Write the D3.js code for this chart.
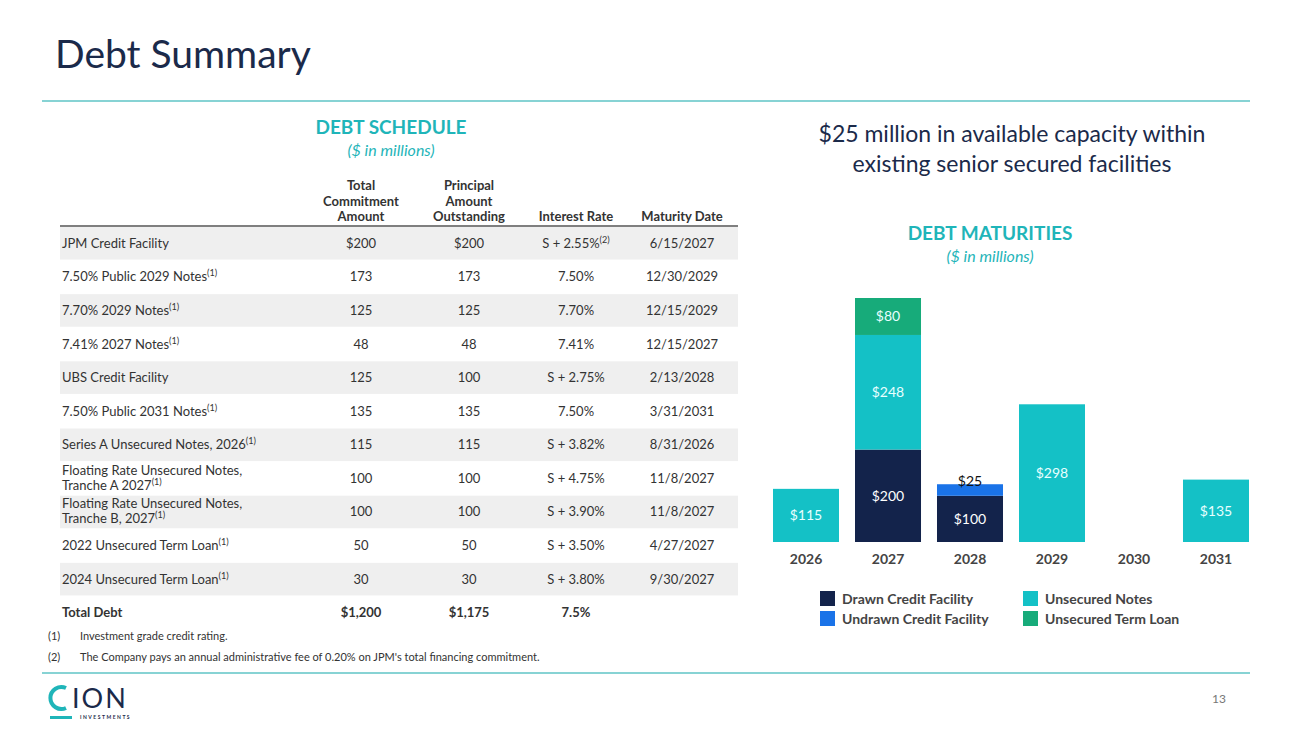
<!DOCTYPE html>
<html><head><meta charset="utf-8">
<script src="https://cdn.jsdelivr.net/npm/d3@7"></script>
<style>body{margin:0;background:#fff}svg{font-family:Lato,"Open Sans",sans-serif}</style>
</head><body><svg width="1300" height="731"></svg>
<script>
// table data
var rowNames = ["JPM Credit Facility","7.50% Public 2029 Notes|(1)","7.70% 2029 Notes|(1)","7.41% 2027 Notes|(1)","UBS Credit Facility","7.50% Public 2031 Notes|(1)","Series A Unsecured Notes, 2026|(1)","Floating Rate Unsecured Notes,\nTranche A 2027|(1)","Floating Rate  Unsecured Notes,\nTranche B, 2027|(1)","2022 Unsecured Term Loan|(1)","2024 Unsecured Term Loan|(1)"];
var commitment = ["$200","173","125","48","125","135","115","100","100","50","30"];
var outstanding = ["$200","173","125","48","100","135","115","100","100","50","30"];
var rates = ["S + 2.55%|(2)","7.50%","7.70%","7.41%","S + 2.75%","7.50%","S + 3.82%","S + 4.75%","S + 3.90%","S + 3.50%","S + 3.80%"];
var maturities = ["6/15/2027","12/30/2029","12/15/2029","12/15/2027","2/13/2028","3/31/2031","8/31/2026","11/8/2027","11/8/2027","4/27/2027","9/30/2027"];
var totals = ["Total Debt","$1,200","$1,175","7.5%",""];

// chart data
var years = ["2026","2027","2028","2029","2030","2031"];
var drawn = [0,200,100,0,0,0];
var undrawn = [0,0,25,0,0,0];
var notes = [115,248,0,298,0,135];
var termLoan = [0,80,0,0,0,0];
var seriesNames = ["Drawn Credit Facility","Undrawn Credit Facility","Unsecured Notes","Unsecured Term Loan"];
var colors = ["#13234b","#1a73e8","#14c1c6","#17ab7a"];

var svg = d3.select("svg");
var teal = "#1fb5b9", navy = "#1b2a4a";

svg.append("text").attr("x",55).attr("y",68).attr("font-size",39).attr("fill",navy).text("Debt Summary");
svg.append("line").attr("x1",42).attr("x2",1250).attr("y1",101).attr("y2",101).attr("stroke","#5fc4c6").attr("stroke-width",1.5);
svg.append("line").attr("x1",42).attr("x2",1250).attr("y1",673).attr("y2",673).attr("stroke","#5fc4c6").attr("stroke-width",1.5);

// table
svg.append("text").attr("x",391).attr("y",134).attr("text-anchor","middle").attr("font-size",19).attr("font-weight","bold").attr("fill",teal).text("DEBT SCHEDULE");
svg.append("text").attr("x",391).attr("y",156).attr("text-anchor","middle").attr("font-size",16).attr("font-style","italic").attr("fill",teal).text("($ in millions)");

var colX = [62,361,469,576,682];
var heads = [[],["Total","Commitment","Amount"],["Principal","Amount","Outstanding"],["Interest Rate"],["Maturity Date"]];
heads.forEach(function(h,i){
  h.forEach(function(t,j){
    svg.append("text").attr("x",colX[i]).attr("y",221-(h.length-1-j)*15.5).attr("text-anchor","middle")
      .attr("font-size",13).attr("font-weight","bold").attr("fill","#333").text(t);
  });
});
svg.append("line").attr("x1",60).attr("x2",738).attr("y1",226).attr("y2",226).attr("stroke","#555").attr("stroke-width",1.5);

var rowY = d3.scaleBand().domain(d3.range(12)).range([226,629]);
var g = svg.append("g");
d3.range(12).forEach(function(i){
  if(i%2==0 && i<11) g.append("rect").attr("x",60).attr("width",678).attr("y",rowY(i)+1).attr("height",rowY.bandwidth()-1).attr("fill","#efefef");
});

function supText(sel,x,y,str,anchor,fs,bold){
  var parts = str.split("|");
  var t = sel.append("text").attr("x",x).attr("y",y).attr("text-anchor",anchor).attr("font-size",fs).attr("fill","#333");
  if(bold) t.attr("font-weight","bold");
  t.append("tspan").text(parts[0]);
  if(parts[1]) t.append("tspan").attr("font-size",fs*0.7).attr("dy",-5).text(parts[1]);
}
rowNames.forEach(function(n,i){
  var cy = rowY(i)+rowY.bandwidth()/2+5;
  var lines = n.split("\n");
  if(lines.length==1) supText(g,colX[0],cy,n,"start",13);
  else { supText(g,colX[0],cy-8,lines[0],"start",13); supText(g,colX[0],cy+7,lines[1],"start",13); }
  supText(g,colX[1],cy,commitment[i],"middle",13);
  supText(g,colX[2],cy,outstanding[i],"middle",13);
  supText(g,colX[3],cy,rates[i],"middle",13);
  supText(g,colX[4],cy,maturities[i],"middle",13);
});
var ty = rowY(11)+rowY.bandwidth()/2+5;
totals.forEach(function(t,i){ if(t) supText(g,colX[i],ty,t,i==0?"start":"middle",13,true); });

[["(1)","Investment grade credit rating.",640],["(2)","The Company pays an annual administrative fee of 0.20% on JPM's total financing commitment.",661]].forEach(function(f){
  svg.append("text").attr("x",48).attr("y",f[2]).attr("font-size",11).attr("fill","#333").text(f[0]);
  svg.append("text").attr("x",80).attr("y",f[2]).attr("font-size",11).attr("fill","#333").text(f[1]);
});

// right side
svg.append("text").attr("x",1012).attr("y",142).attr("text-anchor","middle").attr("font-size",23).attr("fill",navy).text("$25 million in available capacity within");
svg.append("text").attr("x",1012).attr("y",172).attr("text-anchor","middle").attr("font-size",23).attr("fill",navy).text("existing senior secured facilities");
svg.append("text").attr("x",990).attr("y",240).attr("text-anchor","middle").attr("font-size",19).attr("font-weight","bold").attr("fill",teal).text("DEBT MATURITIES");
svg.append("text").attr("x",990).attr("y",262).attr("text-anchor","middle").attr("font-size",16).attr("font-style","italic").attr("fill",teal).text("($ in millions)");

var x = d3.scaleBand().domain(years).range([773,1249]).paddingInner(0.195).paddingOuter(0);
var y = d3.scaleLinear().domain([0,528]).range([542,298]);
var table = years.map(function(yr,i){return {year:yr,d:drawn[i],u:undrawn[i],n:notes[i],t:termLoan[i]};});
var stack = d3.stack().keys(["d","u","n","t"])(table);
var cg = svg.append("g");
stack.forEach(function(s,k){
  cg.selectAll(null).data(s).enter().filter(function(d){return d[1]>d[0];}).append("rect")
    .attr("x",function(d){return x(d.data.year);}).attr("width",x.bandwidth())
    .attr("y",function(d){return y(d[1]);}).attr("height",function(d){return y(d[0])-y(d[1]);})
    .attr("fill",colors[k]);
  cg.selectAll(null).data(s).enter().filter(function(d){return d[1]>d[0];}).append("text")
    .attr("x",function(d){return x(d.data.year)+x.bandwidth()/2;})
    .attr("y",function(d){return k==1 ? y(d[1])+2 : (y(d[0])+y(d[1]))/2+5;})
    .attr("text-anchor","middle").attr("font-size",14)
    .attr("fill",k==0?"#fff":k==1?"#111":"#e8ffff")
    .text(function(d){return "$"+(d[1]-d[0]);});
});
var xAxis = d3.axisBottom(x).tickSize(0).tickPadding(12);
cg.append("g").attr("transform","translate(0,542)").call(xAxis)
  .call(function(a){a.select(".domain").remove();a.selectAll("text").attr("font-size",14).attr("font-weight","bold").attr("fill","#444").attr("font-family","Lato");});

var lx = [820,1023];
seriesNames.forEach(function(n,i){
  var gx = lx[i<2?0:1], gy = 591+(i%2)*20;
  svg.append("rect").attr("x",gx).attr("y",gy).attr("width",15).attr("height",15).attr("fill",colors[i]);
  svg.append("text").attr("x",gx+22).attr("y",gy+13).attr("font-size",14).attr("font-weight","bold").attr("fill","#444").text(n);
});

// logo + page number
svg.append("path").attr("d","M66,688 A11,11 0 1,0 66,708").attr("fill","none").attr("stroke",teal).attr("stroke-width",4);
svg.append("text").attr("x",72).attr("y",708).attr("font-size",27).attr("fill",navy).attr("letter-spacing",2).text("ION");
svg.append("rect").attr("x",50).attr("y",716).attr("width",22).attr("height",3).attr("fill",teal);
svg.append("text").attr("x",80).attr("y",719).attr("font-size",5).attr("font-weight","bold").attr("letter-spacing",1.5).attr("fill",navy).text("INVESTMENTS");
svg.append("text").attr("x",1226).attr("y",703).attr("text-anchor","end").attr("font-size",12).attr("fill","#777").text("13");
</script></body></html>
